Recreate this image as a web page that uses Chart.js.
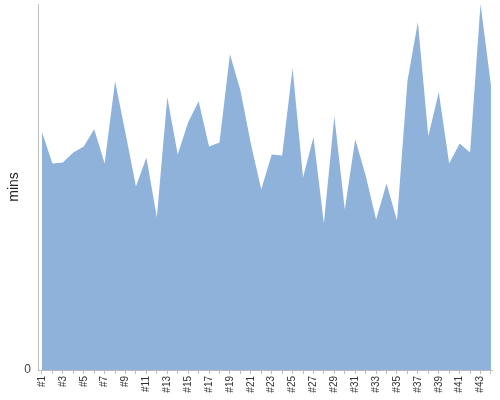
<!DOCTYPE html>
<html>
<head>
<meta charset="utf-8">
<script src="https://cdn.jsdelivr.net/npm/chart.js@4/dist/chart.umd.min.js"></script>
<style>
  html, body { margin: 0; padding: 0; background: #fff; }
  #wrap { width: 500px; height: 400px; position: relative; }
</style>
</head>
<body>
<div id="wrap"><canvas id="minsChart"></canvas></div>
<script>
// one label per run, #1..#44
const labels = [];
for (let i = 1; i <= 44; i++) labels.push('#' + i);

// minutes per run
const mins = [
  237, 206, 207, 217, 223, 240, 206, 288, 236, 183,
  212, 152, 272, 215, 247, 268, 223, 227, 315, 279,
  226, 180, 215, 214, 301, 192, 232, 146, 253, 160,
  230, 194, 150, 186, 149, 288, 347, 233, 277, 206,
  226, 217, 365, 284
];

const yMax = 365;
const axisColor = '#bdbdbd';

const ctx = document.getElementById('minsChart').getContext('2d');
new Chart(ctx, {
  type: 'line',
  data: {
    datasets: [{
      label: 'mins',
      data: mins.map((v, i) => ({ x: i + 1, y: v })),
      backgroundColor: 'rgb(143, 178, 219)',
      borderColor: 'rgb(143, 178, 219)',
      borderWidth: 0,
      pointRadius: 0,
      tension: 0,
      fill: 'origin'
    }]
  },
  options: {
    responsive: true,
    maintainAspectRatio: false,
    animation: false,
    layout: { padding: { top: 4, right: 8, left: 0, bottom: 0 } },
    plugins: {
      legend: { display: false },
      tooltip: { enabled: false }
    },
    scales: {
      x: {
        type: 'linear',
        min: 0.617,
        max: 44.1,
        afterFit: (scale) => {
          scale.height = 30;
          scale.paddingLeft = 0;
          scale.paddingRight = 0;
        },
        border: { display: true, color: axisColor },
        grid: { display: true, drawOnChartArea: false, drawTicks: true, tickLength: 4, color: axisColor },
        ticks: {
          stepSize: 1,
          includeBounds: false,
          autoSkip: false,
          minRotation: 90,
          maxRotation: 90,
          padding: 2,
          color: '#333',
          font: { family: 'Liberation Sans, Arial, sans-serif', size: 10 },
          callback: (value) => (Number.isInteger(value) && value % 2 === 1) ? labels[value - 1] : ''
        }
      },
      y: {
        min: 0,
        max: yMax,
        afterFit: (scale) => {
          scale.width = 38;
          scale.paddingTop = 0;
          scale.paddingBottom = 0;
        },
        border: { display: true, color: axisColor },
        grid: { display: false, drawOnChartArea: false, drawTicks: true, tickLength: 3, color: axisColor },
        title: {
          display: true,
          text: 'mins',
          color: '#222',
          padding: { top: 6, bottom: 0 },
          font: { family: 'Liberation Sans, Arial, sans-serif', size: 14 }
        },
        ticks: {
          stepSize: 1000,
          includeBounds: false,
          padding: 4,
          color: '#444',
          font: { family: 'Liberation Sans, Arial, sans-serif', size: 12 },
          callback: (value) => value === 0 ? '0' : ''
        }
      }
    }
  }
});
</script>
</body>
</html>
